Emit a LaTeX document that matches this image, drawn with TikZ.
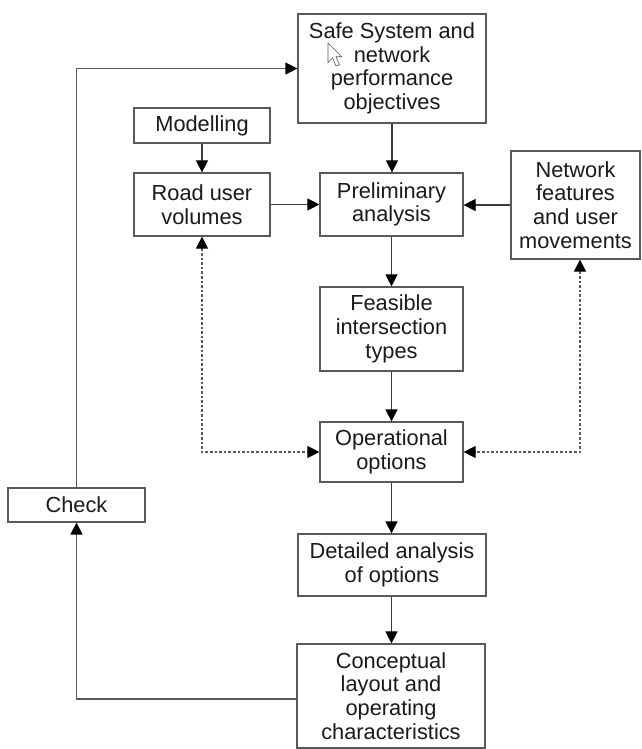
\documentclass[tikz,border=0pt]{standalone}
\usepackage{fontspec}
\setmainfont{Liberation Sans}
\usetikzlibrary{arrows.meta}

\definecolor{boxline}{HTML}{5A5A5A}
\definecolor{flowline}{HTML}{3C3C3C}
\definecolor{txt}{HTML}{1A1A1A}

\tikzset{
  headtip/.tip={Triangle[length=12pt, width=12pt, color=black]},
  stage/.style={draw=boxline, line width=1.2pt, fill=white, inner sep=0pt,
    align=center, text=txt, font=\fontsize{21.8}{23.7}\selectfont},
  flow/.style={draw=flowline, line width=1.1pt, -{headtip}},
  loopline/.style={draw=boxline, line width=1.3pt, -{headtip}},
  dotflow/.style={draw=boxline, line width=1.1pt, dash pattern=on 2.6pt off 2pt,
    {headtip}-{headtip}},
}

\begin{document}
\begin{tikzpicture}[x=1pt, y=-1pt]
\useasboundingbox (0,0) rectangle (642,749);

% process stages
\node[stage, minimum width=188pt, minimum height=109pt] (safe) at (392,68.5)
  {Safe System and\\network\\performance\\objectives};
\node[stage, minimum width=136pt, minimum height=35pt] (model) at (202,125.5)
  {Modelling};
\node[stage, minimum width=136pt, minimum height=63pt] (road) at (202,204.5)
  {Road user\\volumes};
\node[stage, minimum width=143pt, minimum height=63pt] (prelim) at (391.5,204.5)
  {Preliminary\\analysis};
\node[stage, minimum width=129pt, minimum height=108pt] (net) at (575.5,205)
  {Network\\features\\and user\\movements};
\node[stage, minimum width=143pt, minimum height=84pt] (feas) at (391.5,329)
  {Feasible\\intersection\\types};
\node[stage, minimum width=143pt, minimum height=60pt] (oper) at (391.5,452)
  {Operational\\options};
\node[stage, minimum width=137pt, minimum height=34pt] (check) at (76.5,505)
  {Check};
\node[stage, minimum width=188pt, minimum height=62pt] (detail) at (392,565)
  {Detailed analysis\\of options};
\node[stage, minimum width=188pt, minimum height=104pt] (concept) at (391,696)
  {Conceptual\\layout and\\operating\\characteristics};

% main flow
\draw[flow] (safe.south) -- (prelim.north -| safe.south);
\draw[flow] (model.south) -- (road.north);
\draw[flow] (road.east) -- (prelim.west);
\draw[flow] (net.west) -- (prelim.east |- net.west);
\draw[flow] (prelim.south) -- (feas.north);
\draw[flow] (feas.south) -- (oper.north);
\draw[flow] (oper.south) -- (detail.north -| oper.south);
\draw[flow] (detail.south -| oper.south) -- (concept.north -| oper.south);

% review loop
\coordinate (loopout) at ([yshift=-3pt]concept.west);
\draw[loopline] (loopout) -| (check.south);
\draw[loopline] (check.north) |- (safe.west);

% two-way links to the operational options
\coordinate (dl) at (road.south |- oper.west);
\coordinate (dr) at (580,452);
\coordinate (nb) at (dr |- net.south);
\draw[dotflow] (road.south) -- (dl) -- (oper.west);
\draw[dotflow] (nb) -- (dr) -- (oper.east);

% pointer
\draw[boxline, fill=white, line width=0.6pt, shift={(328,43)}, scale=1.15]
  (0,0) -- (0,17) -- (4,13) -- (7,20) -- (10,19) -- (7,12) -- (12,12) -- cycle;
\end{tikzpicture}
\end{document}
